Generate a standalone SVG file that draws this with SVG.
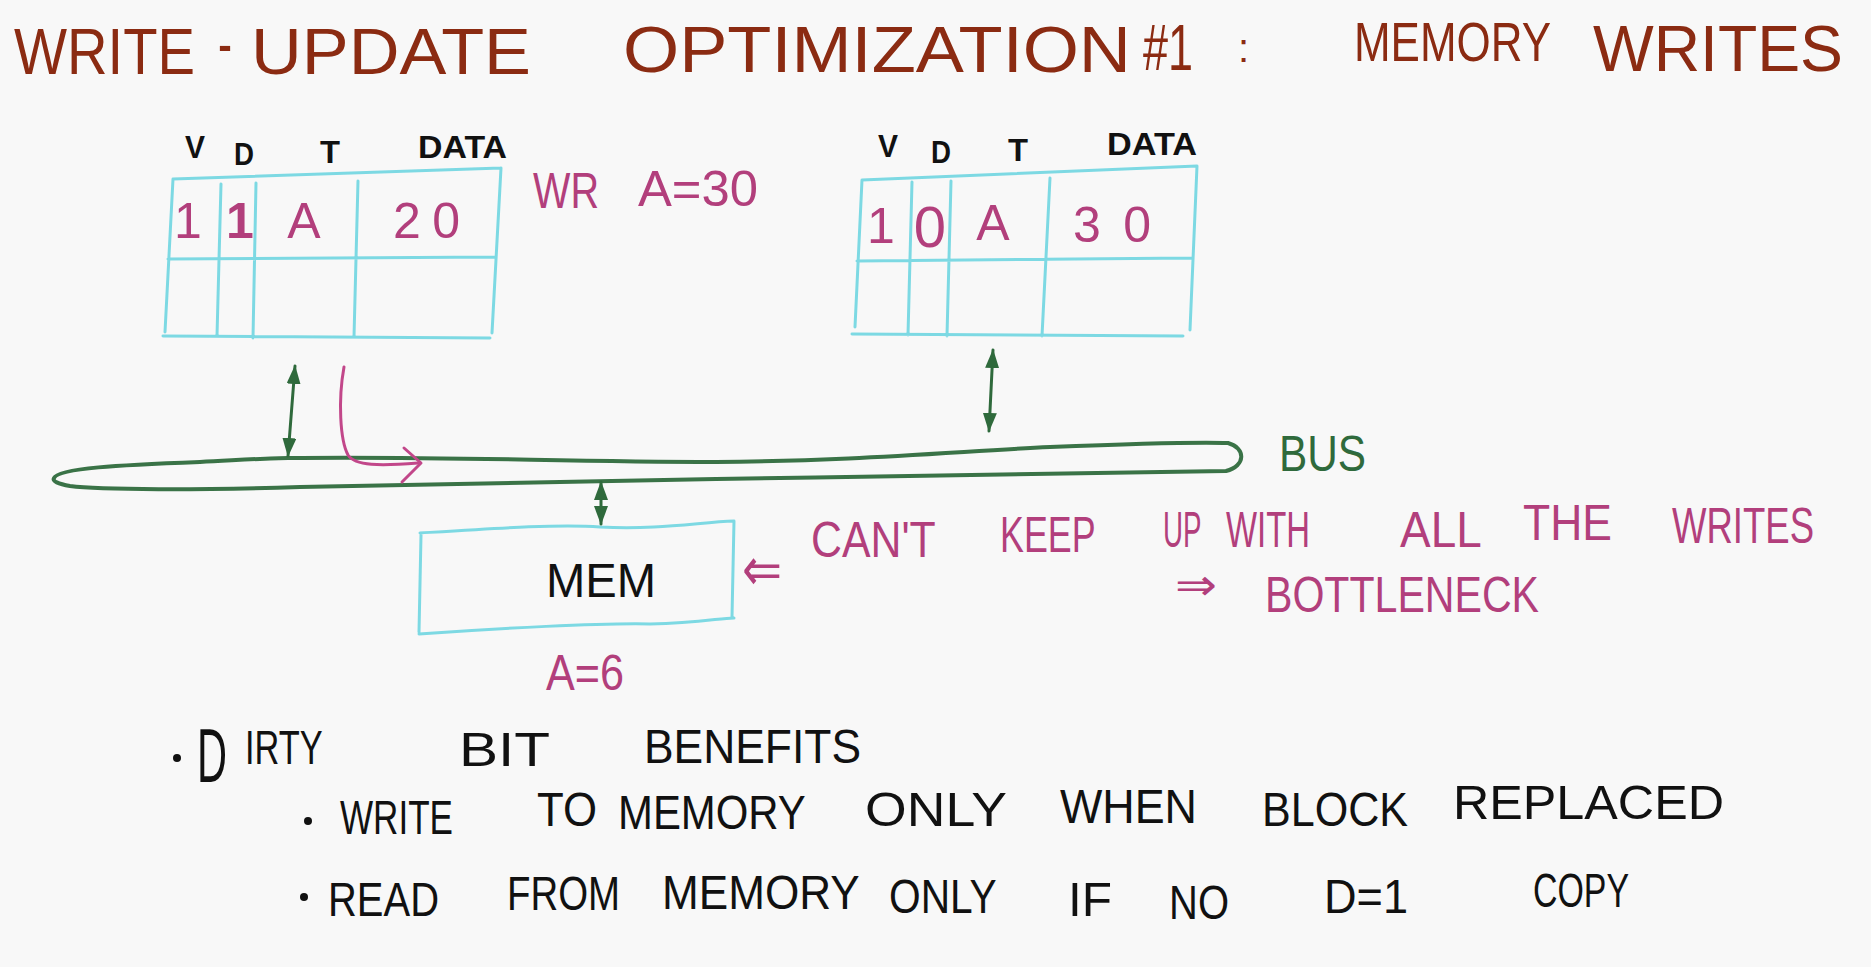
<svg xmlns="http://www.w3.org/2000/svg" width="1871" height="967" viewBox="0 0 1871 967">
<defs>
<style>
.hw{font-family:"Liberation Sans","DejaVu Sans",sans-serif;}
.title{fill:#8B2B12;font-size:64px;}
.blk{fill:#111;font-size:48px;}
.hdr{fill:#111;font-size:32px;font-weight:bold;}
.pink{fill:#B23F7C;font-size:50px;}
.grn{fill:#2F6A3C;font-size:50px;}
.cy{fill:none;stroke:#7DD9E3;stroke-width:3;stroke-linecap:round;}
.gl{fill:none;stroke:#2F6A3C;stroke-width:3;stroke-linecap:round;}
.bus{fill:none;stroke:#3A7347;stroke-width:4;stroke-linejoin:round;}
.pl{fill:none;stroke:#C2478A;stroke-width:3;stroke-linecap:round;stroke-linejoin:round;}
</style>
<marker id="ah" markerUnits="userSpaceOnUse" markerWidth="20" markerHeight="14" refX="18" refY="7" orient="auto-start-reverse" viewBox="0 0 20 14">
<path d="M0,0 L19,7 L0,14 Z" fill="#2F6A3C"/>
</marker>
</defs>
<rect width="1871" height="967" fill="#F8F8F8"/>

<g id="title" class="hw title">
<text><tspan x="14" y="74" textLength="181" lengthAdjust="spacingAndGlyphs">WRITE</tspan> <tspan x="218" y="66" textLength="14" lengthAdjust="spacingAndGlyphs">-</tspan> <tspan x="251" y="74" textLength="280" lengthAdjust="spacingAndGlyphs">UPDATE</tspan> <tspan x="623" y="72" textLength="508" lengthAdjust="spacingAndGlyphs">OPTIMIZATION</tspan> <tspan x="1143" y="70" textLength="50" lengthAdjust="spacingAndGlyphs">#1</tspan> <tspan x="1238" y="62" font-size="40">:</tspan> <tspan x="1354" y="61" font-size="56" textLength="197" lengthAdjust="spacingAndGlyphs">MEMORY</tspan> <tspan x="1593" y="71" textLength="250" lengthAdjust="spacingAndGlyphs">WRITES</tspan></text>
</g>

<g id="cache1">
<path class="cy" d="M173 179 L501 168 M173 179 L165 332 M163 336 L490 338 M501 168 L492 333 M168 259 L496 257 M221 184 L217 336 M256 183 L253 338 M358 181 L354 337"/>
<g class="hw hdr">
<text x="185" y="158" textLength="20" lengthAdjust="spacingAndGlyphs">V</text>
<text x="234" y="165" textLength="20" lengthAdjust="spacingAndGlyphs">D</text>
<text x="320" y="163" textLength="20" lengthAdjust="spacingAndGlyphs">T</text>
<text x="418" y="158" textLength="89" lengthAdjust="spacingAndGlyphs">DATA</text>
</g>
<g class="hw pink">
<text x="188" y="238" text-anchor="middle">1</text>
<text x="240" y="238" text-anchor="middle" font-weight="bold">1</text>
<text x="304" y="238" text-anchor="middle">A</text>
<text x="393" y="238" textLength="67" lengthAdjust="spacing">20</text>
</g>
</g>

<g id="wr-label" class="hw pink">
<text><tspan x="533" y="208" textLength="66" lengthAdjust="spacingAndGlyphs">WR</tspan> <tspan x="638" y="206" textLength="120" lengthAdjust="spacingAndGlyphs">A=30</tspan></text>
</g>

<g id="cache2">
<path class="cy" d="M862 180 L1197 166 M862 180 L855 327 M852 334 L1183 336 M1197 166 L1190 330 M857 261 L1192 258 M912 182 L908 335 M951 181 L947 336 M1050 178 L1042 336"/>
<g class="hw hdr">
<text x="878" y="157" textLength="20" lengthAdjust="spacingAndGlyphs">V</text>
<text x="931" y="163" textLength="20" lengthAdjust="spacingAndGlyphs">D</text>
<text x="1008" y="161" textLength="20" lengthAdjust="spacingAndGlyphs">T</text>
<text x="1107" y="155" textLength="90" lengthAdjust="spacingAndGlyphs">DATA</text>
</g>
<g class="hw pink">
<text x="881" y="243" text-anchor="middle">1</text>
<text x="930" y="247" text-anchor="middle" font-size="58">0</text>
<text x="993" y="240" text-anchor="middle">A</text>
<text x="1073" y="242" textLength="78" lengthAdjust="spacing">30</text>
</g>
</g>

<g id="bus">
<path class="bus" d="M54 478 C58 468 120 465 200 462 C240 460 270 458 288 458 C450 456 560 462 716 462 C850 461 950 452 1050 447 C1150 443 1200 442 1228 443 C1246 448 1246 466 1226 471 C1100 474 900 476 716 479 C550 481 420 484 300 487 C200 490 100 490 70 486 C58 484 52 481 54 478 Z"/>
<text class="hw grn" x="1279" y="471" textLength="87" lengthAdjust="spacingAndGlyphs">BUS</text>
</g>

<g id="mem">
<path class="cy" d="M420 533 C500 528 560 524 600 527 C660 530 700 522 734 521 M734 521 L732 617 M419 634 C500 628 600 623 650 624 C700 623 720 618 734 618 M421 535 L419 632"/>
<text class="hw blk" x="546" y="597" textLength="110" lengthAdjust="spacingAndGlyphs">MEM</text>
<text class="hw pink" x="546" y="690" textLength="78" lengthAdjust="spacingAndGlyphs">A=6</text>
</g>

<g id="connectors">
<line class="gl" x1="295" y1="366" x2="288" y2="456" marker-start="url(#ah)" marker-end="url(#ah)"/>
<line class="gl" x1="993" y1="350" x2="989" y2="431" marker-start="url(#ah)" marker-end="url(#ah)"/>
<line class="gl" x1="601" y1="482" x2="601" y2="524" marker-start="url(#ah)" marker-end="url(#ah)"/>
<path class="pl" d="M344 367 C338 400 340 440 348 455 C355 466 380 466 418 463"/>
<path class="pl" d="M404 448 L421 463 L402 482"/>
</g>

<g id="note" class="hw pink">
<text x="742" y="590" font-family="DejaVu Sans" font-size="60" textLength="40" lengthAdjust="spacingAndGlyphs">⇐</text>
<text><tspan x="811" y="557" textLength="124" lengthAdjust="spacingAndGlyphs">CAN'T</tspan> <tspan x="1000" y="552" textLength="95" lengthAdjust="spacingAndGlyphs">KEEP</tspan> <tspan x="1163" y="547" textLength="38" lengthAdjust="spacingAndGlyphs">UP</tspan> <tspan x="1226" y="547" textLength="84" lengthAdjust="spacingAndGlyphs">WITH</tspan> <tspan x="1400" y="547" textLength="80" lengthAdjust="spacingAndGlyphs">ALL</tspan> <tspan x="1523" y="540" textLength="89" lengthAdjust="spacingAndGlyphs">THE</tspan> <tspan x="1672" y="543" textLength="142" lengthAdjust="spacingAndGlyphs">WRITES</tspan></text>
<text x="1175" y="600" font-family="DejaVu Sans" font-size="44" textLength="42" lengthAdjust="spacingAndGlyphs">⇒</text>
<text x="1265" y="612" textLength="274" lengthAdjust="spacingAndGlyphs">BOTTLENECK</text>
</g>

<g id="bullets" class="hw blk">
<circle cx="177" cy="758" r="4" fill="#111"/>
<text><tspan x="197" y="782" font-size="76" textLength="30" lengthAdjust="spacingAndGlyphs">D</tspan><tspan x="245" y="764" textLength="77" lengthAdjust="spacingAndGlyphs">IRTY</tspan> <tspan x="459" y="766" textLength="90" lengthAdjust="spacingAndGlyphs">BIT</tspan> <tspan x="644" y="763" textLength="217" lengthAdjust="spacingAndGlyphs">BENEFITS</tspan></text>
<circle cx="308" cy="821" r="4" fill="#111"/>
<text><tspan x="340" y="834" textLength="113" lengthAdjust="spacingAndGlyphs">WRITE</tspan> <tspan x="537" y="826" textLength="60" lengthAdjust="spacingAndGlyphs">TO</tspan> <tspan x="618" y="829" textLength="187" lengthAdjust="spacingAndGlyphs">MEMORY</tspan> <tspan x="865" y="826" textLength="141" lengthAdjust="spacingAndGlyphs">ONLY</tspan> <tspan x="1060" y="823" textLength="137" lengthAdjust="spacingAndGlyphs">WHEN</tspan> <tspan x="1262" y="826" textLength="146" lengthAdjust="spacingAndGlyphs">BLOCK</tspan> <tspan x="1453" y="819" textLength="271" lengthAdjust="spacingAndGlyphs">REPLACED</tspan></text>
<circle cx="304" cy="897" r="4" fill="#111"/>
<text><tspan x="328" y="916" textLength="111" lengthAdjust="spacingAndGlyphs">READ</tspan> <tspan x="507" y="910" textLength="113" lengthAdjust="spacingAndGlyphs">FROM</tspan> <tspan x="662" y="909" textLength="197" lengthAdjust="spacingAndGlyphs">MEMORY</tspan> <tspan x="889" y="913" textLength="107" lengthAdjust="spacingAndGlyphs">ONLY</tspan> <tspan x="1068" y="916" textLength="44" lengthAdjust="spacingAndGlyphs">IF</tspan> <tspan x="1169" y="919" textLength="60" lengthAdjust="spacingAndGlyphs">NO</tspan> <tspan x="1324" y="913" textLength="84" lengthAdjust="spacingAndGlyphs">D=1</tspan> <tspan x="1533" y="907" textLength="96" lengthAdjust="spacingAndGlyphs">COPY</tspan></text>
</g>
</svg>
